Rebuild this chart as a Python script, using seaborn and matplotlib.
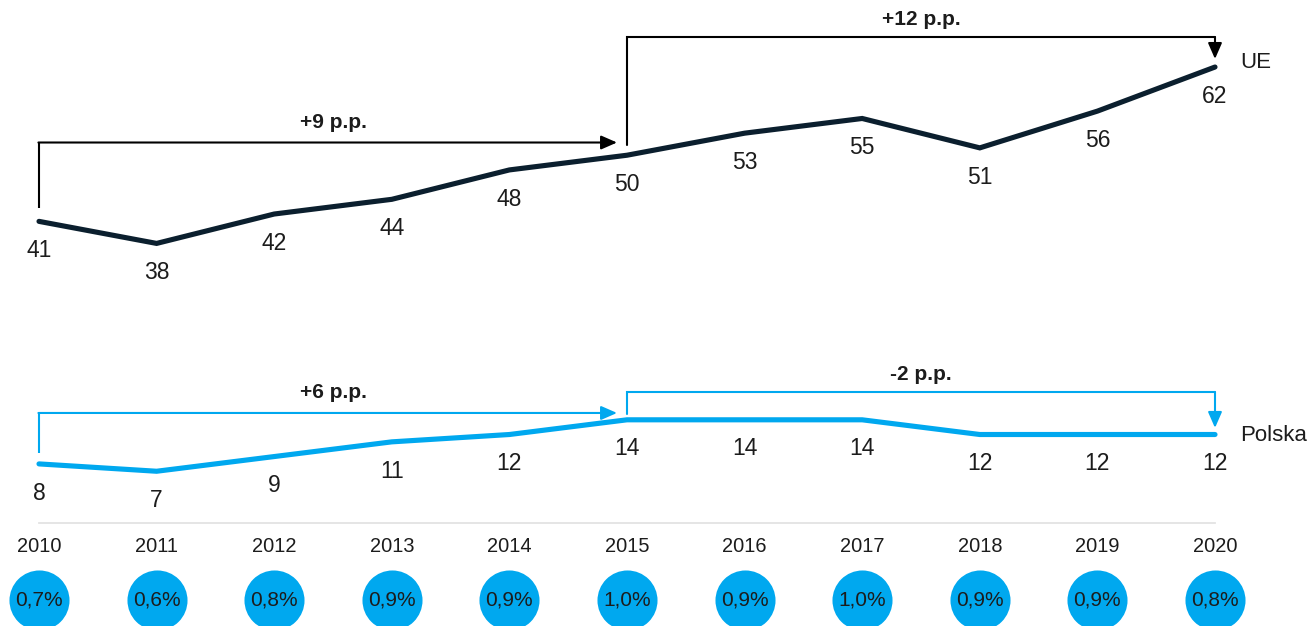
import matplotlib
matplotlib.use("Agg")
import matplotlib.pyplot as plt
import pandas as pd
import seaborn as sns

# Data
years = [2010, 2011, 2012, 2013, 2014, 2015, 2016, 2017, 2018, 2019, 2020]
ue = [41, 38, 42, 44, 48, 50, 53, 55, 51, 56, 62]
polska = [8, 7, 9, 11, 12, 14, 14, 14, 12, 12, 12]
share_labels = ["0,7%", "0,6%", "0,8%", "0,9%", "0,9%", "1,0%",
                "0,9%", "1,0%", "0,9%", "0,9%", "0,8%"]
series_names = ["UE", "Polska"]

UE_COLOR = "#0b1f2e"
PL_COLOR = "#00a8ef"
TEXT_COLOR = "#1c1c1c"

df = pd.DataFrame({
    "year": years * 2,
    "value": ue + polska,
    "series": [series_names[0]] * len(years) + [series_names[1]] * len(years),
})

sns.set_theme(style="white")
plt.rcParams["font.family"] = ["Liberation Sans", "DejaVu Sans"]

fig = plt.figure(figsize=(13.16, 6.26), dpi=100)
ax = fig.add_axes([39 / 1316, 103.3 / 626, 1176 / 1316, 522.7 / 626])
ax.set_xlim(2010, 2020)
ax.set_ylim(0, 71.12)

sns.lineplot(data=df, x="year", y="value", hue="series",
             palette={series_names[0]: UE_COLOR, series_names[1]: PL_COLOR},
             linewidth=3.7, legend=False, ax=ax, clip_on=False,
             solid_joinstyle="miter")

# Value labels under each point
for vals in (ue, polska):
    for x, v in zip(years, vals):
        ax.annotate(str(v), (x, v), xytext=(0, -21), textcoords="offset points",
                    ha="center", va="center", fontsize=16.5, color=TEXT_COLOR,
                    annotation_clip=False)

# Series names at the end of each line
ax.annotate(series_names[0], (years[-1], ue[-1]), xytext=(18, 3.5),
            textcoords="offset points", ha="left", va="center",
            fontsize=16, color=TEXT_COLOR, annotation_clip=False)
ax.annotate(series_names[1], (years[-1], polska[-1]), xytext=(18, -1),
            textcoords="offset points", ha="left", va="center",
            fontsize=16, color=TEXT_COLOR, annotation_clip=False)


def change_label(vals, i0, i1):
    d = vals[i1] - vals[i0]
    return f"{d:+d} p.p."


def bracket_right(vals, i0, i1, start_gap, top, color, label_dy):
    """Up from the first point, then right with an arrow stopping short of the end year."""
    x0, x1 = years[i0], years[i1]
    y0 = vals[i0] + start_gap
    ax.plot([x0, x0], [y0, top], color=color, lw=1.5, clip_on=False,
            solid_capstyle="butt")
    ax.annotate("", xy=(x1 - 0.085, top), xytext=(x0 - 0.005, top),
                arrowprops=dict(arrowstyle="-|>,head_length=0.8,head_width=0.35",
                                color=color, lw=1.5, shrinkA=0, shrinkB=0),
                annotation_clip=False)
    ax.annotate(change_label(vals, i0, i1), ((x0 + x1) / 2, top),
                xytext=(0, label_dy), textcoords="offset points",
                ha="center", va="center", fontsize=15, fontweight="bold",
                color=TEXT_COLOR, annotation_clip=False)


def bracket_down(vals, i0, i1, start_gap, top, end_gap, color, label_dy):
    """Up from the first point, across, then down with an arrow onto the last point."""
    x0, x1 = years[i0], years[i1]
    y0 = vals[i0] + start_gap
    ax.plot([x0, x0, x1], [y0, top, top], color=color, lw=1.5, clip_on=False,
            solid_joinstyle="miter")
    ax.annotate("", xy=(x1, vals[i1] + end_gap), xytext=(x1, top),
                arrowprops=dict(arrowstyle="-|>,head_length=0.8,head_width=0.35",
                                color=color, lw=1.5, shrinkA=0, shrinkB=0),
                annotation_clip=False)
    ax.annotate(change_label(vals, i0, i1), ((x0 + x1) / 2, top),
                xytext=(0, label_dy), textcoords="offset points",
                ha="center", va="center", fontsize=15, fontweight="bold",
                color=TEXT_COLOR, annotation_clip=False)


bracket_right(ue, 0, 5, 1.8, 51.73, "black", 14.5)
bracket_down(ue, 5, 10, 1.4, 66.08, 1.1, "black", 12.5)
bracket_right(polska, 0, 5, 1.5, 14.93, PL_COLOR, 14.5)
bracket_down(polska, 5, 10, 0.8, 17.78, 0.9, PL_COLOR, 12.5)

# Share circles under the year axis
circle_y = -10.45
sns.scatterplot(x=years, y=[circle_y] * len(years), s=1870, color=PL_COLOR,
                linewidth=0, ax=ax, clip_on=False, legend=False)
for x, lab in zip(years, share_labels):
    ax.text(x, circle_y, lab, ha="center", va="center", fontsize=15,
            color=TEXT_COLOR)

# Axis styling: only a light baseline with year labels
for side in ("top", "left", "right"):
    ax.spines[side].set_visible(False)
ax.spines["bottom"].set_color("#e3e3e3")
ax.spines["bottom"].set_linewidth(1.3)
ax.set_xticks(years)
ax.set_xticklabels([str(y) for y in years], fontsize=14.4, color=TEXT_COLOR)
ax.set_yticks([])
ax.tick_params(axis="x", length=0, pad=10.5)
ax.set_xlabel("")
ax.set_ylabel("")
ax.patch.set_alpha(0)

fig.savefig("out.png", dpi=100)
